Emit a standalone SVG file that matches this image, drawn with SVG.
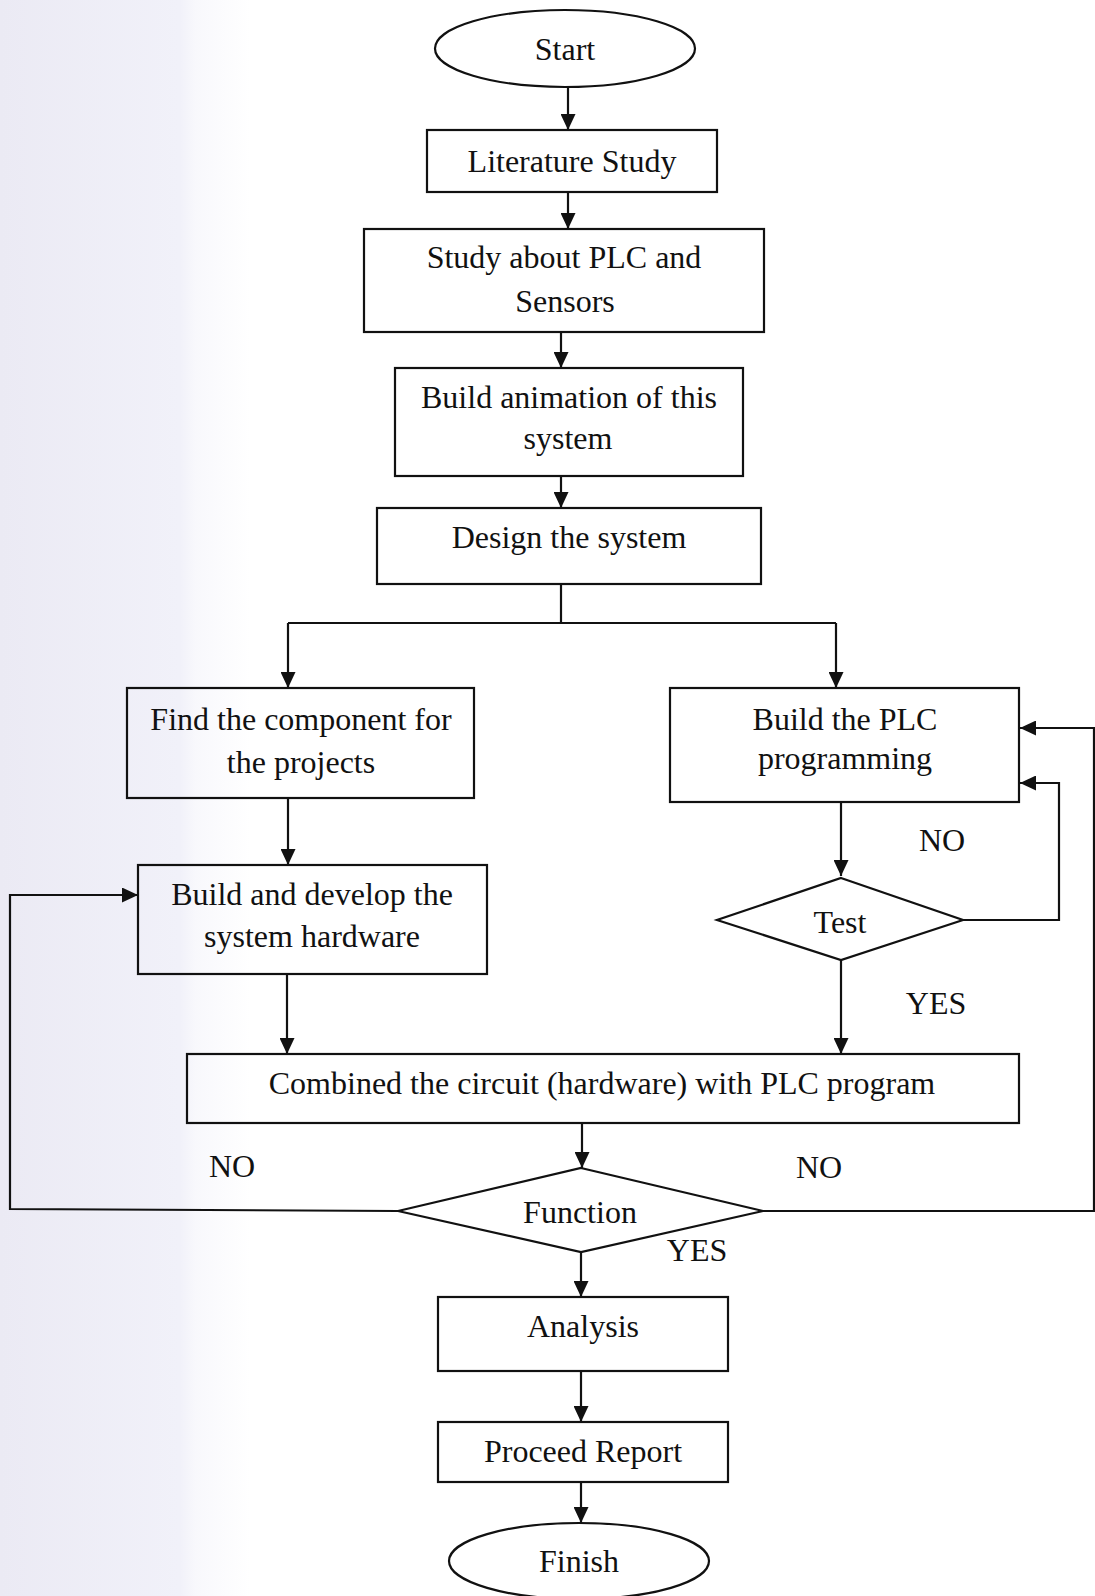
<svg xmlns="http://www.w3.org/2000/svg" width="1095" height="1596" viewBox="0 0 1095 1596">
<style>
.box{fill:none;stroke:#111;stroke-width:2.2}
.ln{fill:none;stroke:#111;stroke-width:2.2}
text{font-family:"Liberation Serif","Times New Roman",serif;font-size:32px;fill:#111;text-anchor:middle}
</style>
<defs>
<linearGradient id="band" x1="0" y1="0" x2="1" y2="0">
<stop offset="0" stop-color="#ebeaf4"/>
<stop offset="0.72" stop-color="#f1f1f9"/>
<stop offset="0.78" stop-color="#f8f8fc"/>
<stop offset="1" stop-color="#ffffff"/>
</linearGradient>
<marker id="ah" markerUnits="userSpaceOnUse" markerWidth="16" markerHeight="15" refX="16" refY="7.5" orient="auto">
<path d="M0,0 L16,7.5 L0,15 z" fill="#111"/>
</marker>
</defs>
<rect x="0" y="0" width="1095" height="1596" fill="#ffffff"/>
<rect x="0" y="0" width="250" height="1596" fill="url(#band)"/>

<g id="connectors">
<line class="ln" x1="568" y1="87" x2="568" y2="130" marker-end="url(#ah)"/>
<line class="ln" x1="568" y1="192" x2="568" y2="229" marker-end="url(#ah)"/>
<line class="ln" x1="561" y1="332" x2="561" y2="368" marker-end="url(#ah)"/>
<line class="ln" x1="561" y1="476" x2="561" y2="508" marker-end="url(#ah)"/>
<polyline class="ln" points="561,584 561,623"/>
<polyline class="ln" points="288,623 836,623"/>
<line class="ln" x1="288" y1="623" x2="288" y2="688" marker-end="url(#ah)"/>
<line class="ln" x1="836" y1="623" x2="836" y2="688" marker-end="url(#ah)"/>
<line class="ln" x1="288" y1="798" x2="288" y2="865" marker-end="url(#ah)"/>
<line class="ln" x1="287" y1="974" x2="287" y2="1054" marker-end="url(#ah)"/>
<line class="ln" x1="841" y1="802" x2="841" y2="876" marker-end="url(#ah)"/>
<line class="ln" x1="841" y1="960" x2="841" y2="1054" marker-end="url(#ah)"/>
<polyline class="ln" points="963,920 1059,920 1059,783 1020,783" marker-end="url(#ah)"/>
<line class="ln" x1="582" y1="1123" x2="582" y2="1168" marker-end="url(#ah)"/>
<polyline class="ln" points="398,1211 10,1209 10,895 138,895" marker-end="url(#ah)"/>
<polyline class="ln" points="763,1211 1094,1211 1094,728 1020,728" marker-end="url(#ah)"/>
<line class="ln" x1="581" y1="1252" x2="581" y2="1297" marker-end="url(#ah)"/>
<line class="ln" x1="581" y1="1371" x2="581" y2="1422" marker-end="url(#ah)"/>
<line class="ln" x1="581" y1="1482" x2="581" y2="1523" marker-end="url(#ah)"/>
<text x="942" y="851">NO</text>
<text x="936" y="1014">YES</text>
<text x="232" y="1177">NO</text>
<text x="819" y="1178">NO</text>
<text x="697" y="1261">YES</text>
</g>

<g id="start">
<ellipse class="box" cx="565" cy="48.5" rx="130" ry="38.5"/>
<text x="565" y="60">Start</text>
</g>
<g id="literature">
<rect class="box" x="427" y="130" width="290" height="62"/>
<text x="572" y="172">Literature Study</text>
</g>
<g id="study-plc">
<rect class="box" x="364" y="229" width="400" height="103"/>
<text x="564" y="268">Study about PLC and</text>
<text x="565" y="312">Sensors</text>
</g>
<g id="animation">
<rect class="box" x="395" y="368" width="348" height="108"/>
<text x="569" y="408">Build animation of this</text>
<text x="568" y="449">system</text>
</g>
<g id="design">
<rect class="box" x="377" y="508" width="384" height="76"/>
<text x="569" y="548">Design the system</text>
</g>
<g id="find-component">
<rect class="box" x="127" y="688" width="347" height="110"/>
<text x="301" y="730">Find the component for</text>
<text x="301" y="773">the projects</text>
</g>
<g id="build-hardware">
<rect class="box" x="138" y="865" width="349" height="109"/>
<text x="312" y="905">Build and develop the</text>
<text x="312" y="947">system hardware</text>
</g>
<g id="build-plc">
<rect class="box" x="670" y="688" width="349" height="114"/>
<text x="845" y="730">Build the PLC</text>
<text x="845" y="769">programming</text>
</g>
<g id="test">
<polygon class="box" points="841,878 963,920 841,960 717,920"/>
<text x="840" y="933">Test</text>
</g>
<g id="combined">
<rect class="box" x="187" y="1054" width="832" height="69"/>
<text x="602" y="1094">Combined the circuit (hardware) with PLC program</text>
</g>
<g id="function">
<polygon class="box" points="581,1168 763,1211 581,1252 398,1211"/>
<text x="580" y="1223">Function</text>
</g>
<g id="analysis">
<rect class="box" x="438" y="1297" width="290" height="74"/>
<text x="583" y="1337">Analysis</text>
</g>
<g id="report">
<rect class="box" x="438" y="1422" width="290" height="60"/>
<text x="583" y="1462">Proceed Report</text>
</g>
<g id="finish">
<ellipse class="box" cx="579" cy="1561" rx="130" ry="38"/>
<text x="579" y="1572">Finish</text>
</g>
</svg>
